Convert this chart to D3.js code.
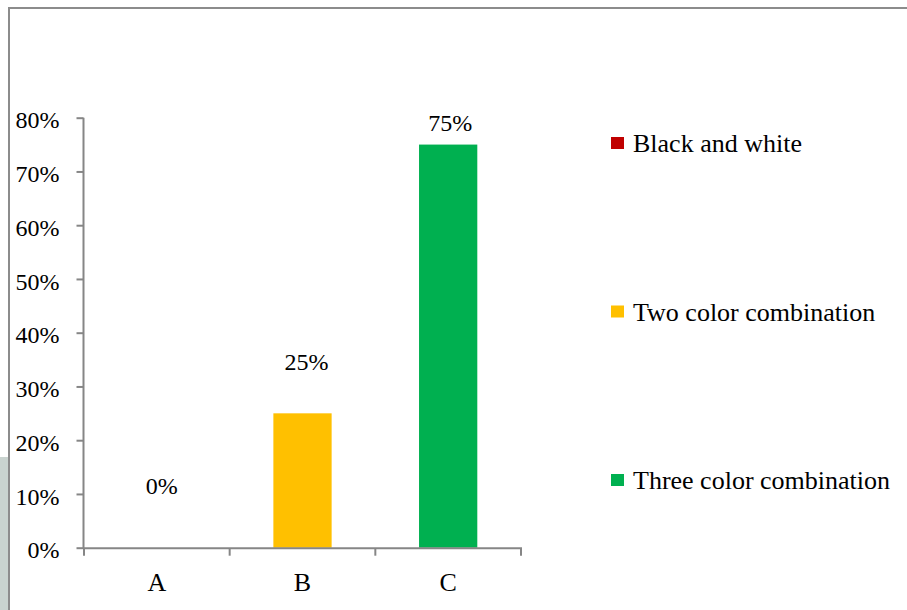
<!DOCTYPE html>
<html>
<head>
<meta charset="utf-8">
<script src="https://cdn.jsdelivr.net/npm/d3@7"></script>
<style>
  html, body { margin: 0; padding: 0; background: #fff; }
  svg { display: block; }
  svg text { font-family: "Liberation Serif", "Times New Roman", serif !important; }
</style>
</head>
<body>
<svg id="chart" width="907" height="610"></svg>
<script>
// Chart data
const categories = ["A", "B", "C"];
const values = [0, 0.25, 0.75];
const seriesNames = ["Black and white", "Two color combination", "Three color combination"];
const seriesColors = ["#C00000", "#FFC000", "#00B050"];
const yTicks = [0, 0.1, 0.2, 0.3, 0.4, 0.5, 0.6, 0.7, 0.8];

const serif = '"Liberation Serif", "Times New Roman", serif';
const svg = d3.select("#chart");
const axisGrey = "#868686";

// Frame around the chart area (top and left edges visible)
svg.append("rect").attr("x", 0).attr("y", 457).attr("width", 8.5).attr("height", 153).attr("fill", "#c9d3cf");
svg.append("line").attr("x1", 9).attr("x2", 907).attr("y1", 8).attr("y2", 8)
  .attr("stroke", "#8c8c8c").attr("stroke-width", 2);
svg.append("line").attr("x1", 9).attr("x2", 9).attr("y1", 7).attr("y2", 610)
  .attr("stroke", "#8c8c8c").attr("stroke-width", 2);

// Plot area
const plot = { left: 84, right: 521, top: 117.7, bottom: 547.7 };

const x = d3.scaleBand().domain(categories)
  .range([plot.left, plot.right]).paddingInner(0.6).paddingOuter(0.3);
const xStep = d3.scaleBand().domain(categories).range([plot.left, plot.right]).padding(0);
const y = d3.scaleLinear().domain([0, 0.8]).range([plot.bottom, plot.top]);

// Bars
svg.append("g").selectAll("rect").data(values).join("rect")
  .attr("x", (d, i) => x(categories[i]))
  .attr("width", x.bandwidth())
  .attr("y", d => y(d))
  .attr("height", d => y(0) - y(d))
  .attr("fill", (d, i) => seriesColors[i]);

// Y axis
const yAxis = d3.axisLeft(y).tickValues(yTicks).tickSize(7).tickPadding(17)
  .tickFormat(d3.format(".0%"));
const gy = svg.append("g").attr("transform", `translate(${plot.left - 0.5},0)`).call(yAxis)
  .attr("font-family", null);
gy.select(".domain").attr("stroke", axisGrey).attr("stroke-width", 2).attr("d", `M0,${plot.top}V${plot.bottom + 1}`);
gy.selectAll(".tick line").attr("stroke", axisGrey).attr("stroke-width", 2);
gy.selectAll(".tick text").attr("fill", "#000")
  .style("font-family", serif).style("font-size", "24px")
  .attr("dy", "0.42em");

// X axis: line with ticks at category boundaries
const gx = svg.append("g").attr("transform", `translate(0,${plot.bottom + 0.5})`);
gx.append("line").attr("x1", plot.left - 1).attr("x2", plot.right + 1).attr("y1", 0).attr("y2", 0)
  .attr("stroke", axisGrey).attr("stroke-width", 2);
const boundaries = categories.map(c => xStep(c)).concat([xStep(categories[categories.length - 1]) + xStep.bandwidth()]);
gx.selectAll("line.tk").data(boundaries).join("line").attr("class", "tk")
  .attr("x1", d => d).attr("x2", d => d).attr("y1", 0).attr("y2", 7.5)
  .attr("stroke", axisGrey).attr("stroke-width", 2);
gx.selectAll("text").data(categories).join("text")
  .attr("x", d => xStep(d) + xStep.bandwidth() / 2)
  .attr("y", 43)
  .attr("text-anchor", "middle").attr("fill", "#000")
  .style("font-family", serif).style("font-size", "26px")
  .text(d => d);

// Data labels
const labelDx = [5, 4, 2];
const labelDy = [-54, -43, -14];
svg.append("g").selectAll("text").data(values).join("text")
  .attr("x", (d, i) => xStep(categories[i]) + xStep.bandwidth() / 2 + labelDx[i])
  .attr("y", (d, i) => y(d) + labelDy[i])
  .attr("text-anchor", "middle").attr("fill", "#000")
  .style("font-family", serif).style("font-size", "24px")
  .text(d => d3.format(".0%")(d));

// Legend
const legend = svg.append("g").attr("transform", "translate(611,0)");
const legendY = d3.scalePoint().domain(seriesNames).range([152, 489]);
const li = legend.selectAll("g").data(seriesNames).join("g")
  .attr("transform", d => `translate(0,${legendY(d)})`);
li.append("rect").attr("x", 0).attr("y", -15).attr("width", 13).attr("height", 12)
  .attr("fill", (d, i) => seriesColors[i]);
li.append("text").attr("x", 22).attr("y", 0).attr("fill", "#000")
  .style("font-family", serif).style("font-size", "26px")
  .text(d => d);
</script>
</body>
</html>
